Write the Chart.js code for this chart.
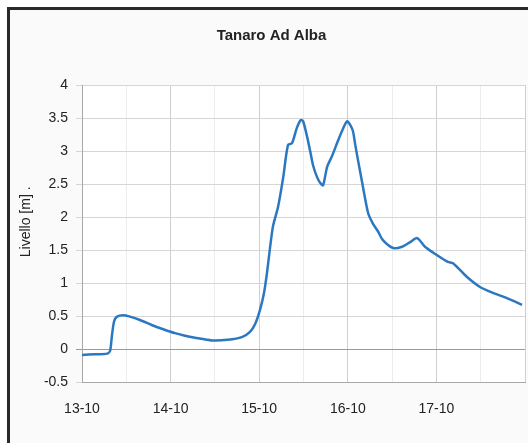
<!DOCTYPE html>
<html>
<head>
<meta charset="utf-8">
<script src="https://cdn.jsdelivr.net/npm/chart.js@4/dist/chart.umd.min.js"></script>
<style>
  html, body { margin: 0; padding: 0; background: #ffffff; overflow: hidden; }
  #frame { position: absolute; left: 7px; top: 7px; width: 540px; height: 460px;
           border: 3px solid #2a2a2a; background: #fafafa; }
  #wrap { position: absolute; left: 0; top: 0; width: 528px; height: 443px; }
</style>
</head>
<body>
<div id="frame"></div>
<div id="wrap"><canvas id="c" width="528" height="443"></canvas></div>
<script>
// ---- data (hours since 13-10 00:00, level in m) ----
const hours = [0, 3.5, 6.8, 7.6, 8.1, 8.7, 9.5, 11.1, 13, 15.7, 19, 22, 25.2, 27.9, 30.6, 35.2,
  39.5, 43.3, 45.5, 46.9, 48.2, 49.3, 50.1, 51.7, 53.1, 54.5, 55.8, 56.9, 58.2, 59.3, 59.9,
  61, 61.8, 62.6, 63.7, 64.5, 65.3, 66.4, 67.7, 69.1, 70.4, 71.8, 72.6, 73.4, 74, 74.8, 75.9,
  77.5, 78.8, 80.2, 81.5, 84.3, 86.7, 88.9, 90.8, 92.9, 96.2, 99.1, 100.5, 104.3, 107.8,
  111.3, 115.1, 119.2];
const levels = [-0.09, -0.08, -0.07, -0.03, 0.2, 0.42, 0.49, 0.51, 0.49, 0.44, 0.36, 0.3, 0.24,
  0.2, 0.17, 0.13, 0.14, 0.18, 0.26, 0.38, 0.59, 0.85, 1.15, 1.85, 2.15, 2.6, 3.09, 3.12,
  3.35, 3.47, 3.45, 3.21, 3.0, 2.78, 2.6, 2.52, 2.48, 2.76, 2.92, 3.12, 3.3, 3.45, 3.4, 3.3,
  3.1, 2.85, 2.52, 2.06, 1.9, 1.78, 1.65, 1.53, 1.55, 1.62, 1.68, 1.55, 1.42, 1.32, 1.3,
  1.09, 0.94, 0.85, 0.77, 0.67];
const dayLabels = ['13-10', '14-10', '15-10', '16-10', '17-10', '18-10'];
const chartTitle = 'Tanaro Ad Alba';
const yTitle = 'Livello [m] .';

const points = hours.map((h, i) => ({ x: h, y: levels[i] }));

const plotBg = {
  id: 'plotBg',
  beforeDraw(chart) {
    const { ctx, chartArea: a } = chart;
    ctx.save();
    ctx.fillStyle = '#ffffff';
    ctx.fillRect(a.left, a.top, a.right - a.left, a.bottom - a.top);
    ctx.restore();
  }
};

new Chart(document.getElementById('c'), {
  type: 'line',
  data: {
    datasets: [{
      data: points,
      borderColor: '#2b78c2',
      borderWidth: 2.5,
      pointRadius: 0,
      tension: 0.25,
      fill: false
    }]
  },
  options: {
    responsive: false,
    animation: false,
    layout: { padding: { left: 18, right: 3, top: 0, bottom: 0 } },
    plugins: {
      legend: { display: false },
      tooltip: { enabled: false },
      title: {
        display: true,
        text: chartTitle,
        color: '#222',
        font: { family: 'Liberation Sans, Arial, sans-serif', size: 15, weight: 'bold' },
        padding: { top: 27, bottom: 40 }
      }
    },
    scales: {
      x: {
        type: 'linear',
        min: 0, max: 120,
        afterFit(s) { s.height = 61; },
        afterBuildTicks(s) {
          const t = [];
          for (let v = 0; v <= 120; v += 12) t.push({ value: v });
          s.ticks = t;
        },
        ticks: {
          autoSkip: false,
          maxRotation: 0,
          padding: 0,
          color: '#222',
          font: { family: 'Liberation Sans, Arial, sans-serif', size: 14 },
          callback(v) { return (v % 24 === 0 && v < 120) ? dayLabels[v / 24] : ''; }
        },
        grid: {
          drawTicks: true,
          tickLength: 19,
          tickColor: 'rgba(0,0,0,0)',
          color(ctx) {
            const v = ctx.tick ? ctx.tick.value : 0;
            return v % 24 === 0 ? '#cfcfcf' : '#ececec';
          }
        },
        border: { color: '#a8a8a8' }
      },
      y: {
        min: -0.5, max: 4,
        afterFit(s) { s.width = 64; },
        ticks: {
          stepSize: 0.5,
          padding: 8,
          color: '#222',
          font: { family: 'Liberation Sans, Arial, sans-serif', size: 14 },
          callback(v) { return String(Math.round(v * 10) / 10); }
        },
        grid: {
          tickLength: 6,
          color(ctx) {
            const v = ctx.tick ? ctx.tick.value : 1;
            return v === 0 ? '#9a9a9a' : '#d6d6d6';
          }
        },
        border: { color: '#a8a8a8' },
        title: {
          display: true,
          text: '      ' + yTitle,
          color: '#222',
          font: { family: 'Liberation Sans, Arial, sans-serif', size: 14 },
          padding: { top: 0, bottom: 0 }
        }
      }
    }
  },
  plugins: [plotBg]
});
</script>
</body>
</html>
